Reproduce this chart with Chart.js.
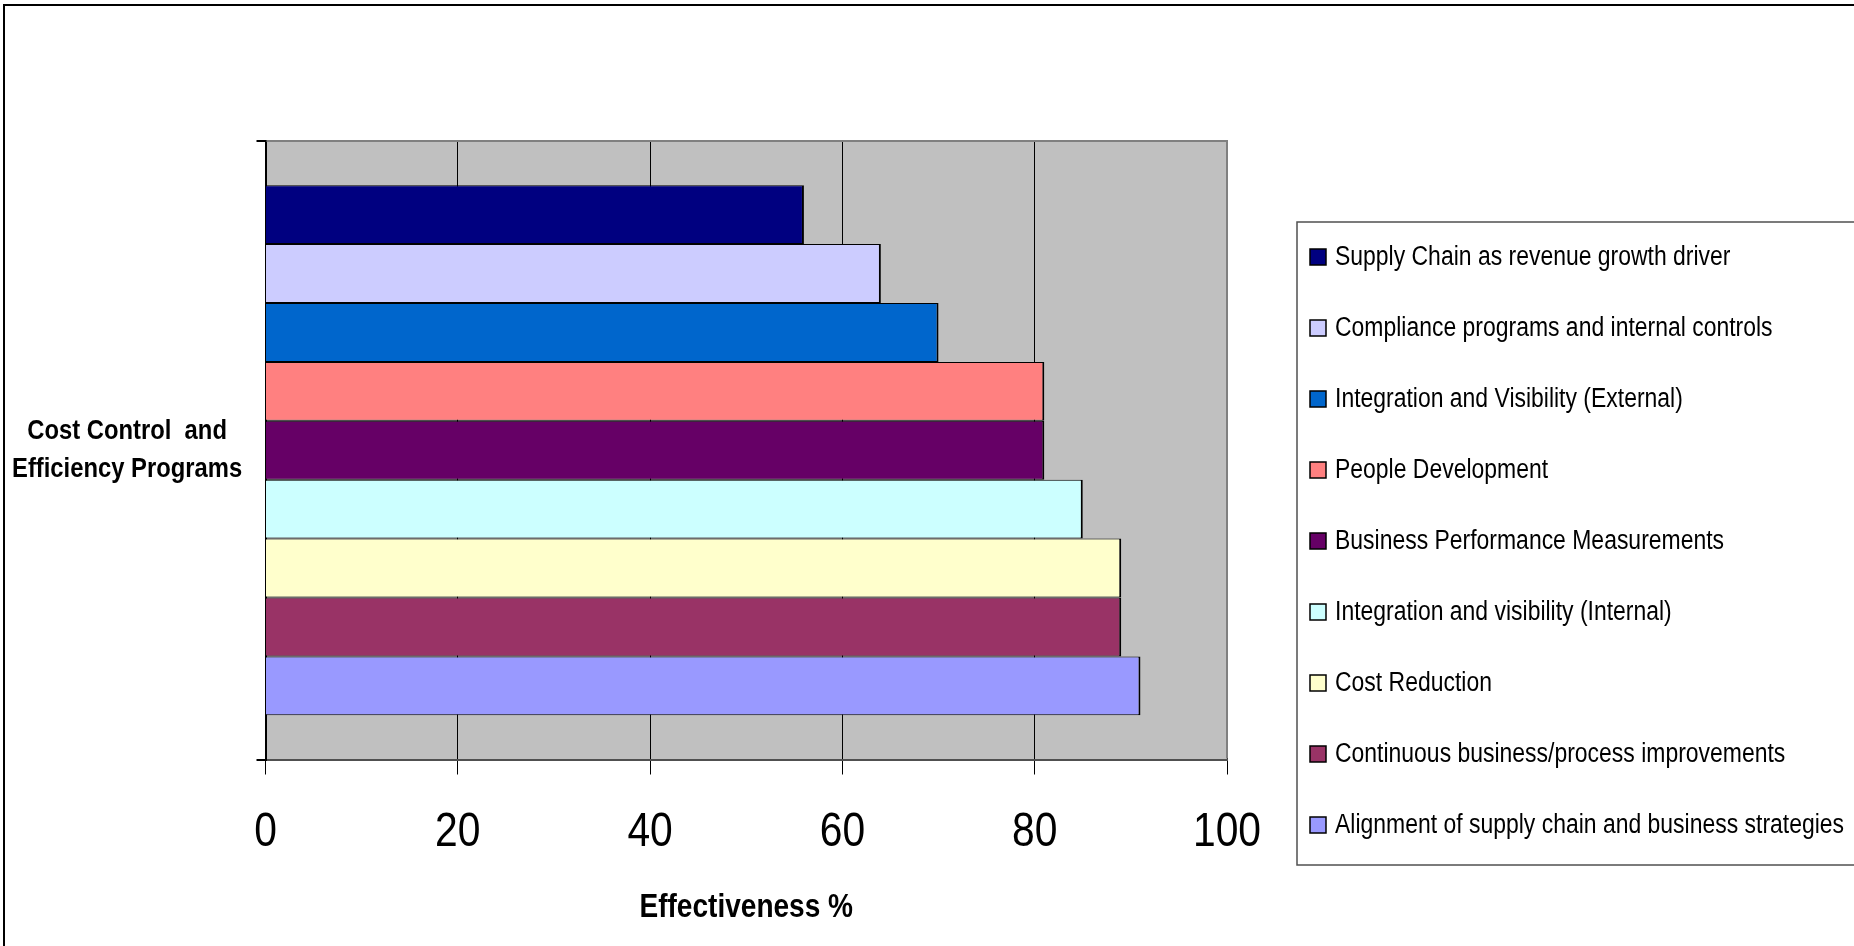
<!DOCTYPE html>
<html>
<head>
<meta charset="utf-8">
<title>Cost Control and Efficiency Programs</title>
<script src="https://cdn.jsdelivr.net/npm/chart.js@4.4.1/dist/chart.umd.min.js"></script>
<style>
  html, body { margin: 0; padding: 0; background: #ffffff; }
  canvas { display: block; }
</style>
</head>
<body>
<canvas id="c" width="1854" height="946"></canvas>
<script>
// Category (drawn as a two-line label on the vertical axis)
const categoryLines = ['Cost Control  and', 'Efficiency Programs'];

// Series names, top to bottom
const seriesNames = [
  'Supply Chain as revenue growth driver',
  'Compliance programs and internal controls',
  'Integration and Visibility (External)',
  'People Development',
  'Business Performance Measurements',
  'Integration and visibility (Internal)',
  'Cost Reduction',
  'Continuous business/process improvements',
  'Alignment of supply chain and business strategies'
];

// Effectiveness % per series
const seriesValues = [56, 64, 70, 81, 81, 85, 89, 89, 91];

// Value axis ticks
const xTicks = [0, 20, 40, 60, 80, 100];

// Fill colours, one per series
const seriesColors = [
  '#000080', '#CCCCFF', '#0066CC', '#FF8080', '#660066',
  '#CCFFFF', '#FFFFCC', '#993366', '#9999FF'
];

const FONT = '"Liberation Sans", Arial, sans-serif';
const CONDENSE = 0.85; // narrow lettering: text is squeezed horizontally
Chart.defaults.font.family = FONT;
Chart.defaults.color = '#000000';

const canvas = document.getElementById('c');
const ctx2d = canvas.getContext('2d');
const baseFillText = ctx2d.fillText.bind(ctx2d);
ctx2d.fillText = function (text, x, y, maxWidth) {
  const w = this.measureText(text).width * CONDENSE;
  baseFillText(text, x, y, maxWidth !== undefined ? Math.min(maxWidth, w) : w);
};

// Page frame, grey plot background and plot border
const framePlugin = {
  id: 'frame',
  beforeDraw(chart) {
    const { ctx, chartArea: a } = chart;
    ctx.save();
    ctx.fillStyle = '#ffffff';
    ctx.fillRect(0, 0, chart.width, chart.height);
    ctx.fillStyle = '#C0C0C0';
    ctx.fillRect(a.left, a.top, a.right - a.left, a.bottom - a.top);
    ctx.strokeStyle = '#000000';
    ctx.lineWidth = 2;
    ctx.beginPath();
    ctx.moveTo(4, chart.height);
    ctx.lineTo(4, 5);
    ctx.lineTo(chart.width, 5);
    ctx.stroke();
    ctx.restore();
  },
  beforeDatasetsDraw(chart) {
    const { ctx, chartArea: a } = chart;
    ctx.save();
    ctx.strokeStyle = '#808080';
    ctx.lineWidth = 2;
    ctx.beginPath();
    ctx.moveTo(a.left + 1, a.top);
    ctx.lineTo(a.right, a.top);
    ctx.lineTo(a.right, a.bottom - 1);
    ctx.stroke();
    ctx.restore();
  }
};

// Boxed legend on the right
const boxLegendPlugin = {
  id: 'boxLegend',
  afterDraw(chart) {
    const { ctx } = chart;
    const left = 1297, top = 222, bottom = 865;
    const firstRow = 257, rowGap = 71;
    ctx.save();
    ctx.strokeStyle = '#505050';
    ctx.lineWidth = 1.5;
    ctx.strokeRect(left, top, chart.width + 10 - left, bottom - top);
    ctx.font = '27px ' + FONT;
    ctx.textBaseline = 'middle';
    ctx.textAlign = 'left';
    chart.data.datasets.forEach((ds, i) => {
      const cy = firstRow + i * rowGap;
      ctx.fillStyle = ds.backgroundColor;
      ctx.fillRect(1310, cy - 8, 16, 16);
      ctx.strokeStyle = '#000000';
      ctx.lineWidth = 1.5;
      ctx.strokeRect(1310, cy - 8, 16, 16);
      ctx.fillStyle = '#000000';
      ctx.fillText(ds.label, 1335, cy + 1);
    });
    ctx.restore();
  }
};

const datasets = seriesNames.map((name, i) => ({
  label: name,
  data: [seriesValues[i]],
  backgroundColor: seriesColors[i],
  borderColor: '#000000',
  borderWidth: { top: 1, bottom: 1, left: 0, right: 2 },
  borderSkipped: false,
  categoryPercentage: 9 / 10.5,
  barPercentage: 1
}));

new Chart(canvas, {
  type: 'bar',
  data: { labels: [categoryLines], datasets },
  plugins: [framePlugin, boxLegendPlugin],
  options: {
    indexAxis: 'y',
    responsive: false,
    animation: false,
    events: [],
    layout: { padding: { top: 141, right: 627, left: 0, bottom: 0 } },
    plugins: {
      legend: { display: false },
      tooltip: { enabled: false },
      title: { display: false }
    },
    scales: {
      x: {
        type: 'linear',
        min: 0,
        max: 100,
        afterBuildTicks(scale) { scale.ticks = xTicks.map(v => ({ value: v })); },
        afterFit(scale) { scale.height = 186.5; },
        grid: {
          color: '#000000',
          tickColor: '#000000',
          lineWidth: 1,
          tickLength: 15,
          drawTicks: true
        },
        border: { color: '#505050', width: 2 },
        ticks: {
          font: { size: 48, lineHeight: 1.2 },
          color: '#000000',
          padding: 29,
          maxRotation: 0,
          autoSkip: false
        },
        title: {
          display: true,
          text: 'Effectiveness %',
          color: '#000000',
          font: { size: 33, weight: 'bold', lineHeight: 1.2 },
          padding: { top: 0, bottom: 18 }
        }
      },
      y: {
        type: 'category',
        afterFit(scale) { scale.width = 265.5; },
        grid: {
          drawOnChartArea: false,
          drawTicks: true,
          tickLength: 9,
          color: '#000000',
          lineWidth: 2,
          offset: true
        },
        border: { color: '#000000', width: 2 },
        ticks: {
          crossAlign: 'center',
          padding: -6,
          color: '#000000',
          font: { size: 28, weight: 'bold', lineHeight: 1.35 }
        }
      }
    }
  }
});
</script>
</body>
</html>
